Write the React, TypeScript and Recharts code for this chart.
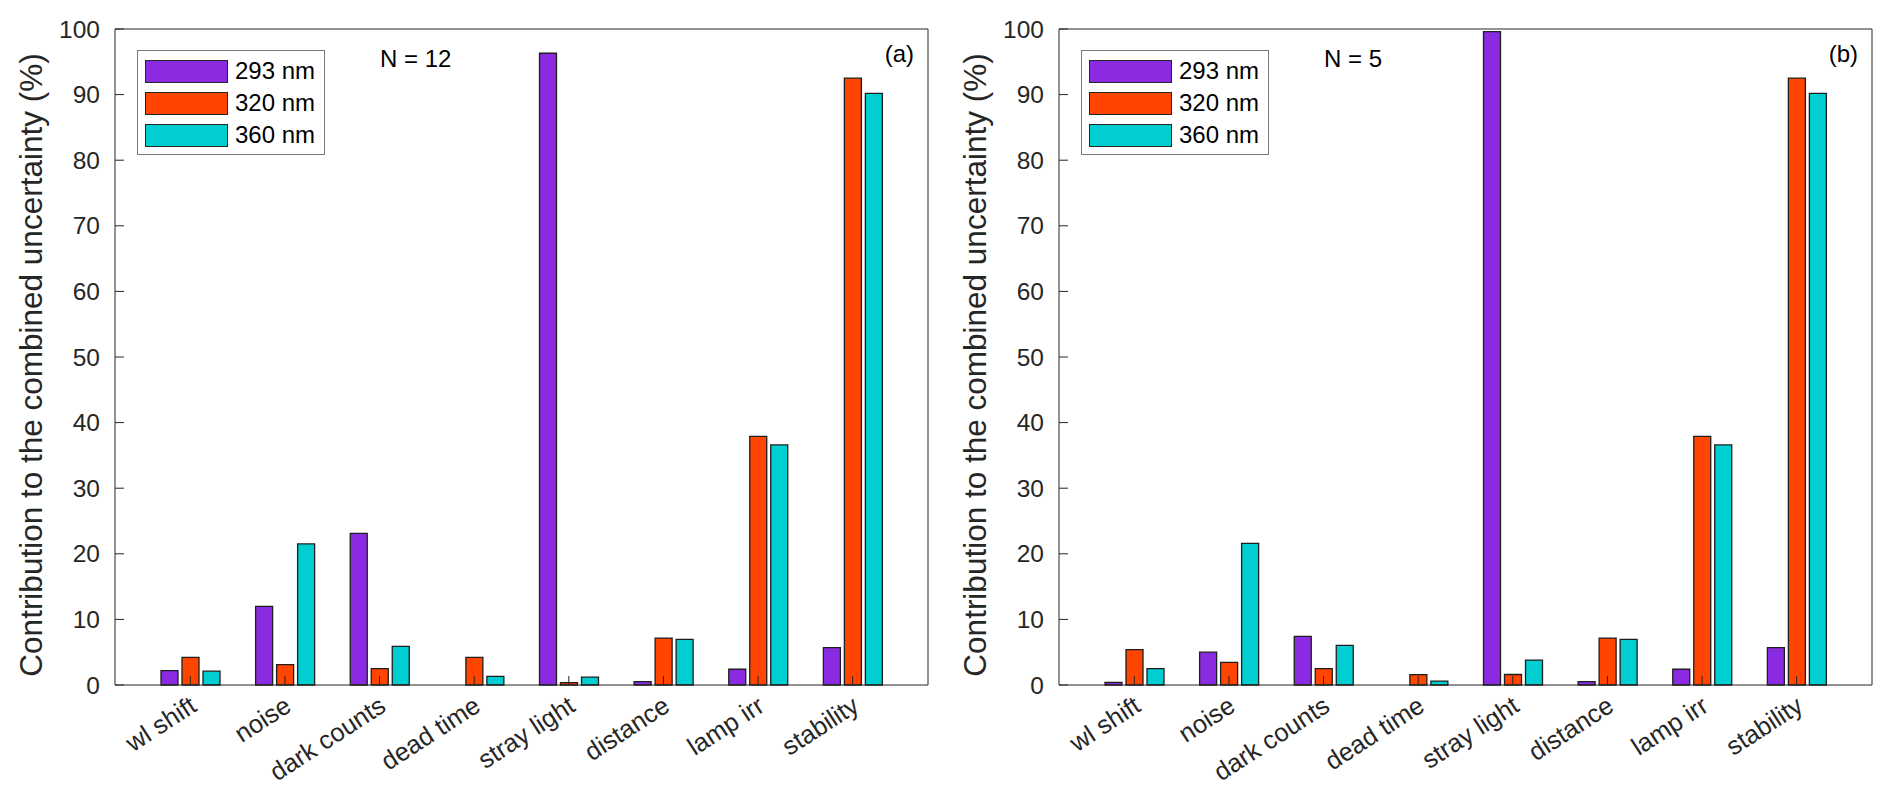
import { BarChart, Bar, XAxis, YAxis, Legend } from 'recharts';

const FONT = "'Liberation Sans', Arial, Helvetica, sans-serif";
const INK = '#262626';

const categories = ['wl shift', 'noise', 'dark counts', 'dead time', 'stray light', 'distance', 'lamp irr', 'stability'];
const seriesNames = ['293 nm', '320 nm', '360 nm'];
const seriesColors = ['#8a2be2', '#ff4500', '#00ced1'];
const yTicks = [0, 10, 20, 30, 40, 50, 60, 70, 80, 90, 100];

// panel (a), N = 12
const a293 = [2.2, 12.0, 23.1, 0, 96.3, 0.5, 2.4, 5.7];
const a320 = [4.2, 3.1, 2.5, 4.2, 0.35, 7.15, 37.9, 92.5];
const a360 = [2.1, 21.5, 5.9, 1.3, 1.2, 6.95, 36.6, 90.2];

// panel (b), N = 5
const b293 = [0.4, 5.0, 7.4, 0, 99.6, 0.5, 2.4, 5.7];
const b320 = [5.4, 3.45, 2.5, 1.57, 1.6, 7.15, 37.9, 92.5];
const b360 = [2.5, 21.6, 6.05, 0.6, 3.8, 6.95, 36.6, 90.2];

const buildRows = (s1: number[], s2: number[], s3: number[]) =>
  categories.map((name, i) => ({ name, s293: s1[i], s320: s2[i], s360: s3[i] }));

const seriesKeys = ['s293', 's320', 's360'];

function CategoryTick(props: any) {
  const { x, y, payload } = props;
  const tx = x + 8;
  const ty = y + 25;
  return (
    <text
      x={tx}
      y={ty}
      transform={`rotate(-33, ${tx}, ${ty})`}
      textAnchor="end"
      fill={INK}
      fontSize={25.5}
      fontFamily={FONT}
    >
      {payload.value}
    </text>
  );
}

function AxisTitle(props: any) {
  const { viewBox } = props;
  const x = viewBox.x + 34;
  const y = viewBox.y + viewBox.height / 2 + 8;
  return (
    <text x={x} y={y} transform={`rotate(-90, ${x}, ${y})`} textAnchor="middle" fill={INK} fontSize={31.5} fontFamily={FONT}>
      Contribution to the combined uncertainty (%)
    </text>
  );
}

function BoxLegend(props: any) {
  const { payload } = props;
  return (
    <div
      style={{
        border: '1px solid #7a7a7a',
        background: '#fff',
        padding: '4px 8px 3px 7px',
        fontFamily: FONT,
        fontSize: 24,
        color: '#000',
      }}
    >
      {(payload || []).map((p: any) => (
        <div key={p.value} style={{ display: 'flex', alignItems: 'center', height: 32 }}>
          <span
            style={{
              display: 'inline-block',
              width: 83,
              height: 23,
              background: p.color,
              border: `1px solid ${INK}`,
              boxSizing: 'border-box',
              marginRight: 7,
            }}
          />
          {p.value}
        </div>
      ))}
    </div>
  );
}

function Panel({ rows, note, tag, left }: { rows: any[]; note: string; tag: string; left: number }) {
  return (
    <div style={{ position: 'absolute', left, top: 0, width: 940, height: 798 }}>
      <BarChart
        width={940}
        height={798}
        data={rows}
        margin={{ top: 20, right: 19, bottom: 13, left: 0 }}
        barSize={17}
        barGap={4}
      >
        {seriesKeys.map((k, i) => (
          <Bar
            key={k}
            dataKey={k}
            name={seriesNames[i]}
            fill={seriesColors[i]}
            stroke="#1e1e1e"
            strokeWidth={1.3}
            isAnimationActive={false}
          />
        ))}
        <XAxis
          dataKey="name"
          height={108}
          interval={0}
          padding={{ left: 28, right: 28 }}
          tickSize={-9}
          tickMargin={9}
          tick={<CategoryTick />}
          axisLine={{ stroke: INK }}
          tickLine={{ stroke: INK }}
        />
        <XAxis
          xAxisId="top"
          orientation="top"
          dataKey="name"
          height={1}
          interval={0}
          padding={{ left: 28, right: 28 }}
          tickSize={-9}
          tick={false}
          axisLine={{ stroke: INK }}
          tickLine={{ stroke: INK }}
        />
        <YAxis
          width={107}
          domain={[0, 100]}
          ticks={yTicks}
          interval={0}
          tickSize={-9}
          tickMargin={24}
          tick={{ fill: INK, fontSize: 24.5, fontFamily: FONT }}
          axisLine={{ stroke: INK }}
          tickLine={{ stroke: INK }}
          label={<AxisTitle />}
        />
        <YAxis
          yAxisId="right"
          orientation="right"
          width={1}
          domain={[0, 100]}
          ticks={yTicks}
          interval={0}
          tickSize={-9}
          tick={false}
          axisLine={{ stroke: INK }}
          tickLine={{ stroke: INK }}
        />
        <Legend
          layout="vertical"
          align="center"
          verticalAlign="middle"
          content={<BoxLegend />}
          wrapperStyle={{ left: 129, top: 42, width: 188 }}
        />
      </BarChart>
      <div
        style={{
          position: 'absolute',
          left: 372,
          top: 39,
          fontFamily: FONT,
          fontSize: 24,
          lineHeight: '24px',
          color: '#000',
          whiteSpace: 'nowrap',
        }}
      >
        {note}
      </div>
      <div
        style={{
          position: 'absolute',
          right: 34,
          top: 34,
          fontFamily: FONT,
          fontSize: 24,
          lineHeight: '24px',
          color: '#000',
        }}
      >
        {tag}
      </div>
    </div>
  );
}

export default function App() {
  return (
    <div style={{ position: 'relative', width: 1876, height: 798 }}>
      <Panel rows={buildRows(a293, a320, a360)} note="N = 12" tag="(a)" left={0} />
      <Panel rows={buildRows(b293, b320, b360)} note="N = 5" tag="(b)" left={944} />
    </div>
  );
}
